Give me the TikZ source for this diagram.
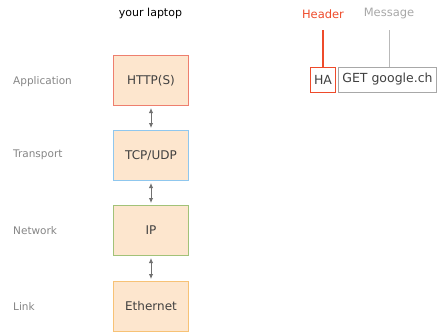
\documentclass[tikz,border=0pt]{standalone}
\usepackage{fontspec}
\setmainfont{DejaVu Sans}
\usetikzlibrary{arrows.meta}
\definecolor{boxfill}{HTML}{FDE6CE}
\definecolor{cHttp}{HTML}{EE7F6E}
\definecolor{cTcp}{HTML}{8FC7EE}
\definecolor{cIp}{HTML}{A2C278}
\definecolor{cEth}{HTML}{F7C276}
\definecolor{labelgray}{HTML}{858585}
\definecolor{textdark}{HTML}{404040}
\definecolor{headred}{HTML}{EE4B2B}
\definecolor{msggray}{HTML}{A8A8A8}
\definecolor{arrowgray}{HTML}{707070}
\begin{document}
\begin{tikzpicture}[x=1pt,y=-1pt,
  layer/.style={draw, line width=1pt, fill=boxfill, minimum width=75pt, minimum height=50pt, inner sep=0pt, text=textdark, font=\fontsize{12}{14}\selectfont},
  lbl/.style={anchor=west, text=labelgray, inner sep=0pt, font=\fontsize{10.5}{12}\selectfont},
  conn/.style={{Latex[length=5pt,width=4.5pt]}-{Latex[length=5pt,width=4.5pt]}, arrowgray, line width=0.9pt},
  pkt/.style={draw, line width=1pt, minimum height=25pt, inner sep=0pt, text=textdark, font=\fontsize{12.5}{14}\selectfont},
  top/.style={inner sep=0pt, font=\fontsize{11.5}{13}\selectfont}
]
\useasboundingbox (0,0) rectangle (441,335);
\node[top, text=black, font=\fontsize{11}{13}\selectfont] (laptop) at (150.5,13) {your laptop};

\node[layer, draw=cHttp] (http) at (151,80.5) {HTTP(S)};
\node[layer, draw=cTcp] (tcp) at (151,155.5) {TCP/UDP};
\node[layer, draw=cIp] (ip) at (151,230.5) {IP};
\node[layer, draw=cEth] (eth) at (151,306.5) {Ethernet};

\node[lbl] (lapp) at (13,82) {Application};
\node[lbl] (ltra) at (13,155) {Transport};
\node[lbl] (lnet) at (13,231) {Network};
\node[lbl] (llnk) at (13,307) {Link};

\draw[conn] ([yshift=-2pt]http.south) -- ([yshift=2pt]tcp.north);
\draw[conn] ([yshift=-2pt]tcp.south) -- ([yshift=2pt]ip.north);
\draw[conn] ([yshift=-2pt]ip.south) -- ([yshift=2pt]eth.north);

\node[pkt, draw=headred, minimum width=25pt] (ha) at (323,79.5) {HA};
\node[pkt, draw=msggray, minimum width=98pt] (msg) at (387.5,79.5) {GET google.ch};

\node[top, text=headred] (header) at (323,14) {Header};
\node[top, text=msggray] (message) at (389,14) {Message};
\coordinate (hl) at (323,30);
\coordinate (ml) at (389,30);
\draw[draw=headred, line width=1.2pt] (hl) -- (hl |- ha.north);
\draw[draw=msggray!80, line width=1pt] (ml) -- (ml |- msg.north);
\end{tikzpicture}
\end{document}
